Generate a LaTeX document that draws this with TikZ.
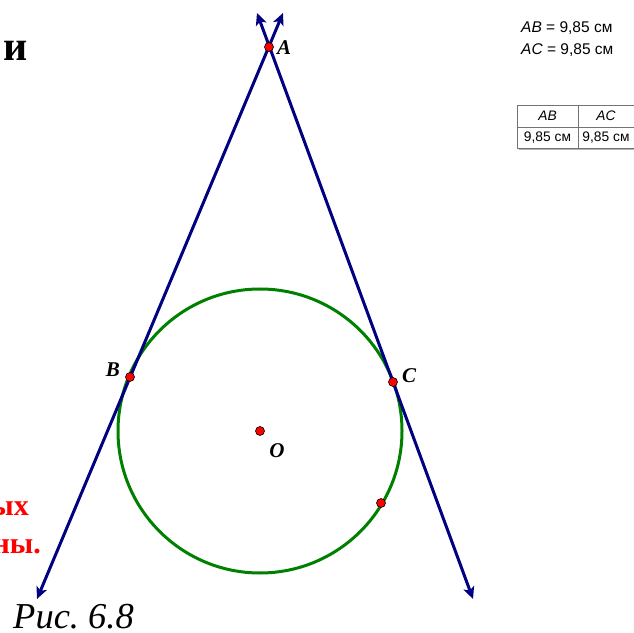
\documentclass[tikz,border=0pt]{standalone}
\usepackage{fontspec}
\setmainfont{Liberation Serif}
\newfontfamily\arialf{Liberation Sans}
\usetikzlibrary{arrows.meta}
\frenchspacing
\definecolor{navyline}{RGB}{0,0,128}
\definecolor{greenline}{RGB}{0,128,0}
\tikzset{
  tline/.style={navyline, line width=3pt, {Stealth[length=12pt,width=11pt,inset=3pt]}-{Stealth[length=12pt,width=11pt,inset=3pt]}},
  circ/.style={greenline, line width=3pt},
  pt/.style={circle, fill=red, draw=black, line width=0.6pt, minimum size=9pt, inner sep=0pt},
  ptlabel/.style={font=\fontsize{21}{21}\selectfont\bfseries\itshape, inner sep=0pt},
  meas/.style={font=\arialf\fontsize{15.5}{15.5}\selectfont, inner sep=0pt, anchor=base west},
  cell/.style={font=\arialf\fontsize{13.8}{13.8}\selectfont, inner sep=0pt},
  redtxt/.style={red, font=\fontsize{30}{30}\selectfont\bfseries, inner sep=0pt, anchor=base east},
  tborder/.style={draw=gray!90!black, line width=0.8pt}
}
\begin{document}
\begin{tikzpicture}[x=1pt,y=1pt]
\useasboundingbox (0,0) rectangle (634,632);
\clip (0,0) rectangle (634,632);
% circle
\coordinate (O) at (260,201);
\draw[circ] (O) circle (142);
% lines
\coordinate (T1) at (283,619);
\coordinate (L1) at (37,33);
\coordinate (T2) at (257,619);
\coordinate (R1) at (473,33);
\draw[tline] (T1) -- (L1);
\draw[tline] (T2) -- (R1);
% points
\node[pt] (A) at (269,585) {};
\node[pt] (B) at (130,255) {};
\node[pt] (C) at (393,250) {};
\node[pt] (Oc) at (260,201) {};
\node[pt] (D) at (381,129) {};
% labels
\node[ptlabel] (lA) at (284,584) {A};
\node[ptlabel] (lB) at (113,262) {B};
\node[ptlabel] (lC) at (409,256) {C};
\node[ptlabel] (lO) at (277,181) {O};
% measurements
\node[meas] (m1) at (521,599) {\textit{AB} = 9,85 см};
\node[meas] (m2) at (521,577) {\textit{AC} = 9,85 см};
% table
\draw[tborder] (640,527) -- (517,527) -- (517,484) -- (640,484);
\draw[tborder] (517,505) -- (640,505);
\draw[tborder] (578,527) -- (578,484);
\draw[gray!60, line width=0.8pt] (519,482.5) -- (640,482.5);
\node[cell] (h1) at (547.5,516) {\textit{AB}};
\node[cell] (h2) at (606,516) {\textit{AC}};
\node[cell] (v1) at (547.5,494) {9,85 см};
\node[cell] (v2) at (606,494) {9,85 см};
% slide text remnants
\node[font=\fontsize{42}{42}\selectfont\bfseries, inner sep=0pt, anchor=base west] (t1) at (3,571) {и};
\node[redtxt] (t2) at (29,117) {ых};
\node[redtxt] (t3) at (41,79) {ны.};
\node[font=\fontsize{36.5}{36.5}\selectfont\itshape, inner sep=0pt, anchor=base west] (cap) at (13,4) {Рис. 6.8};
\end{tikzpicture}
\end{document}
